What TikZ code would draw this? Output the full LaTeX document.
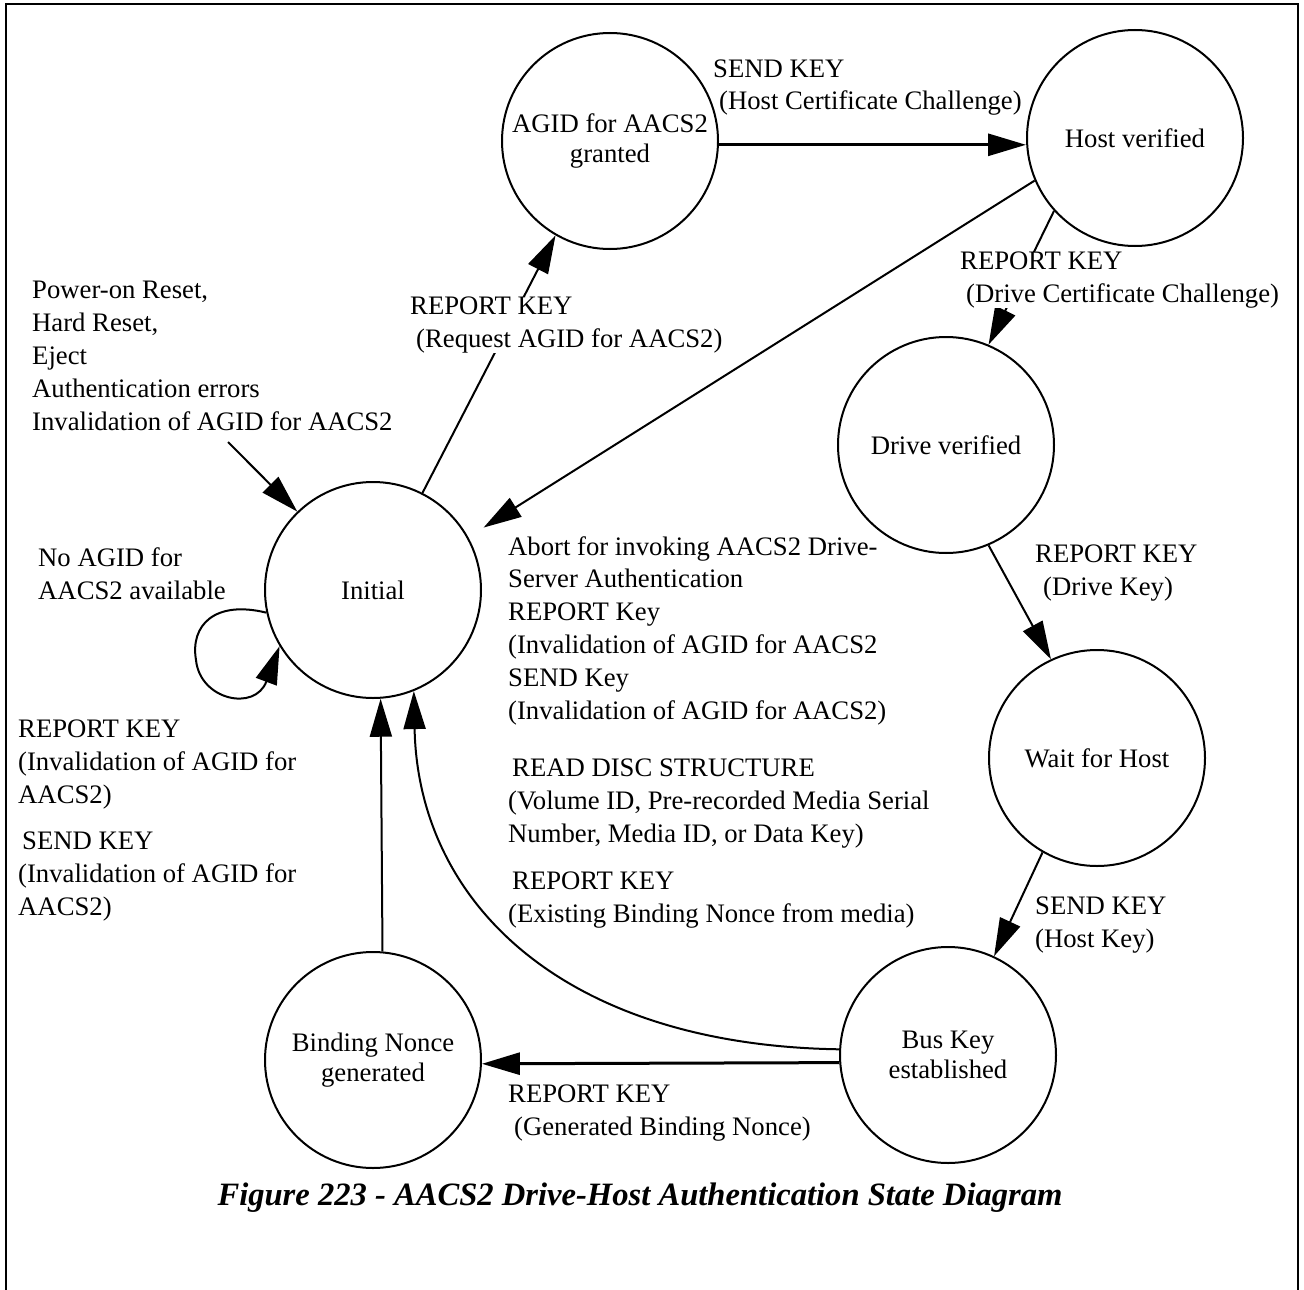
\documentclass[tikz,border=0pt]{standalone}
\usepackage{fontspec}
\setmainfont{Liberation Serif}
\usetikzlibrary{arrows.meta}
\newcommand\dgfont{\fontsize{26.7}{32.8}\selectfont}
\newcommand\stfont{\fontsize{26.7}{30}\selectfont}
\newcommand\capfont{\fontsize{32.6}{38}\selectfont\bfseries\itshape}
\begin{document}
\begin{tikzpicture}[x=1pt,y=-1pt,
  state/.style={circle,draw,line width=2pt,minimum size=216pt,inner sep=0pt,align=center,font=\stfont},
  % multi-line labels are placed by the baseline of their last line
  lbl/.style={inner sep=0pt,align=left,font=\dgfont,anchor=base west},
  tr/.style={line width=2pt,-{Triangle[length=38pt,width=22pt]}},
  thick tr/.style={tr,line width=3pt}]
\useasboundingbox (0,0) rectangle (1304,1290);
% outer frame
\draw[line width=2pt] (6,1292) -- (6,4) -- (1298,4) -- (1298,1292);

% states
\node[state] (agid) at (610,141) {AGID for AACS2\\granted};
\node[state] (host) at (1135,138) {Host verified};
\node[state] (drv)  at (946,445) {Drive verified};
\node[state] (wait) at (1097,758) {Wait for Host};
\node[state] (init) at (373,590) {Initial};
\node[state] (bus)  at (948,1055) {Bus Key\\established};
\node[state] (bind) at (373,1060) {Binding Nonce\\generated};

% transitions
\coordinate (pw) at (228,442);
\draw[tr] (pw) -- (init.134.3);
\draw[tr] (init.63.4) -- (agid.240.5);
\draw[thick tr] (agid.-2) -- (agid.-2 -| host.west);
\draw[tr,shorten >=18pt] (host.203.3) -- (init.29);
\draw[tr] (host.222) -- (drv.67);
\draw[tr] (drv.293.4) -- (wait.115.4);
\draw[tr] (wait.240) -- (bus.65.5);
\draw[thick tr] (bus.184.2) -- (bind.358.4);
\draw[tr] (bind.85.2) -- (init.274.8);
\draw[tr] (bus.177.4) .. controls (560,1045) and (418,900) .. (init.292);
\draw[tr] (init.192) .. controls (215,600) and (190,625) .. (196,660)
          .. controls (200,700) and (255,712) .. (init.211);

% transition labels
\node[lbl] (lpow) at (32,430) {Power-on Reset,\\Hard Reset,\\Eject\\Authentication errors\\Invalidation of AGID for AACS2};
\node[lbl] (lnoag) at (38,599) {No AGID for\\AACS2 available};
\node[lbl] (lrk) at (18,803) {REPORT KEY\\(Invalidation of AGID for\\AACS2)};
\node[lbl] (lsk) at (18,915) {\hspace*{4pt}SEND KEY\\(Invalidation of AGID for\\AACS2)};
\node[lbl,fill=white] (lreq) at (410,347) {REPORT KEY\\\hspace*{6pt}(Request AGID for AACS2)};
\node[lbl] (lhcc) at (713,110) {SEND KEY\\\hspace*{6pt}(Host Certificate Challenge)};
\node[lbl,fill=white] (ldcc) at (960,302) {REPORT KEY\\\hspace*{6pt}(Drive Certificate Challenge)};
\node[lbl] (labort) at (508,719) {Abort for invoking AACS2 Drive-\\Server Authentication\\REPORT Key\\(Invalidation of AGID for AACS2\\SEND Key\\(Invalidation of AGID for AACS2)};
\node[lbl] (ldk) at (1035,595) {REPORT KEY\\\hspace*{8pt}(Drive Key)};
\node[lbl] (lread) at (508,842) {\hspace*{4pt}READ DISC STRUCTURE\\(Volume ID, Pre-recorded Media Serial\\Number, Media ID, or Data Key)};
\node[lbl] (lexist) at (508,922) {\hspace*{4pt}REPORT KEY\\(Existing Binding Nonce from media)};
\node[lbl] (lhk) at (1035,947) {SEND KEY\\(Host Key)};
\node[lbl] (lgen) at (508,1135) {REPORT KEY\\\hspace*{6pt}(Generated Binding Nonce)};

% caption
\node[font=\capfont,inner sep=0pt] (cap) at (640,1198) {Figure 223 - AACS2 Drive-Host Authentication State Diagram};
\end{tikzpicture}
\end{document}
